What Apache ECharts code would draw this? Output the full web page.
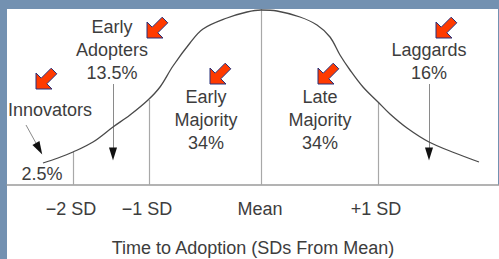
<!DOCTYPE html>
<html>
<head>
<meta charset="utf-8">
<script src="https://cdn.jsdelivr.net/npm/echarts@6/dist/echarts.min.js"></script>
<style>
html,body{margin:0;padding:0;background:#7391b1;}
#wrap{position:relative;width:499px;height:259px;overflow:hidden;}
#white1{position:absolute;left:7px;top:9px;width:491px;height:250px;background:#fff;}
#white2{position:absolute;left:497px;top:185px;width:2px;height:74px;background:#fff;}
#chart{position:absolute;left:0;top:0;width:499px;height:259px;}
</style>
</head>
<body>
<div id="wrap"><div id="white1"></div><div id="white2"></div><div id="chart"></div></div>
<script>
// Adoption curve (x: horizontal position units, y: height above baseline)
const curveX = [36,51,66,86,106,123,141,153,166,183,196,220,240,254,270,293,310,323,333,343,356,371,383,400,422,448,472];
const curveY = [22,27,33,43,58,70,85,98,119,142,156,167,173,175,174,168,160,148,130,115,98,83,71,57,43,32,23];
// Segment dividers (x position, curve height at that x)
const dividerX = [66,142,254,371];
const dividerTop = [33,85,176,83];
// Tick labels
const tickLabels = ['\u22122 SD','\u22121 SD','Mean','+1 SD'];
const tickPos = [64,140,253,369];
const axisTitle = 'Time to Adoption (SDs From Mean)';
// Category annotations
const groupNames = ['Innovators','Early\nAdopters\n13.5%','Early\nMajority\n34%','Late\nMajority\n34%','Laggards\n16%'];
const innovatorShare = '2.5%';
// Pointer arrows: start, end (tip) in data units
const pointerStart = [[19,60],[106,101],[422,101]];
const pointerEnd = [[35,31],[106,25],[422,25]];

const FONT = '"Liberation Sans", Arial, sans-serif';
const TXT = '#3d3d3d';

const chart = echarts.init(document.getElementById('chart'), null, {renderer:'svg'});

const curveData = curveX.map((x,i)=>[x,curveY[i]]);
const dividerLines = dividerX.map((x,i)=>[{coord:[x,0]},{coord:[x,dividerTop[i]]}]);

const pointerLines = pointerStart.map((s,i)=>{
  const e = pointerEnd[i];
  const dx = e[0]-s[0], dy = e[1]-s[1], L = Math.hypot(dx,dy);
  const b = [e[0]-dx/L*10, e[1]-dy/L*10];
  return [{coord:s},{coord:b}];
});
const pointerHeads = pointerStart.map((s,i)=>{
  const e = pointerEnd[i];
  const dx = e[0]-s[0], dy = e[1]-s[1], L = Math.hypot(dx,dy);
  const c = [e[0]-dx/L*6, e[1]-dy/L*6];
  const ang = Math.atan2(dx, dy) * 180 / Math.PI;
  return {coord:c, symbolRotate: -ang};
});

function text(str, x, y){
  return {type:'text', x:x, y:y, z:100,
    style:{text:str, font:'18px '+FONT, fill:TXT, align:'center', verticalAlign:'middle', lineHeight:23}};
}
function redArrow(x,y){
  return {type:'polygon', x:x, y:y, z:100,
    shape:{points:[[0,22],[0,6],[5.2,11.2],[15.2,1.2],[20.8,6.8],[10.8,16.8],[16,22]]},
    style:{fill:'#ff3a00', stroke:'#27307a', lineWidth:1}};
}

chart.setOption({
  animation:false,
  backgroundColor:'transparent',
  grid:{left:7,right:0,top:9,bottom:74,containLabel:false,outerBoundsMode:'none'},
  xAxis:{
    type:'value', min:0, max:492,
    axisLine:{show:true, lineStyle:{color:'#9a9a9a', width:1.5}},
    axisTick:{show:false},
    splitLine:{show:false},
    axisLabel:{
      customValues:tickPos,
      margin:15,
      fontSize:18, fontFamily:FONT, color:TXT,
      formatter:function(v){ const i = tickPos.indexOf(v); return i>=0 ? tickLabels[i] : ''; }
    },
    name:axisTitle, nameLocation:'middle', nameGap:54,
    nameTextStyle:{fontSize:18, fontFamily:FONT, color:TXT}
  },
  yAxis:{type:'value', min:0, max:176, show:false},
  series:[
    {
      type:'line', data:curveData, smooth:0.35, showSymbol:false, z:5,
      lineStyle:{color:'#4a4a4a', width:1.3},
      markLine:{
        silent:true, symbol:['none','none'], label:{show:false},
        lineStyle:{color:'#a8a8a8', width:1.2, type:'solid'},
        data:dividerLines
      }
    },
    {
      type:'line', data:[], z:6,
      markLine:{
        silent:true, symbol:['none','none'], label:{show:false},
        lineStyle:{color:'#8a8a8a', width:1, type:'solid'},
        data:pointerLines
      },
      markPoint:{
        silent:true, symbol:'triangle', symbolSize:[8,13], label:{show:false},
        itemStyle:{color:'#111'},
        data:pointerHeads
      }
    }
  ],
  graphic:[
    text(groupNames[0], 50, 110),
    text(innovatorShare, 42, 174),
    text(groupNames[1], 112, 50),
    text(groupNames[2], 206, 120),
    text(groupNames[3], 320, 120),
    text(groupNames[4], 429, 61),
    redArrow(36,67),
    redArrow(147,16),
    redArrow(210,62),
    redArrow(318,62),
    redArrow(436,16)
  ]
});
</script>
</body>
</html>
